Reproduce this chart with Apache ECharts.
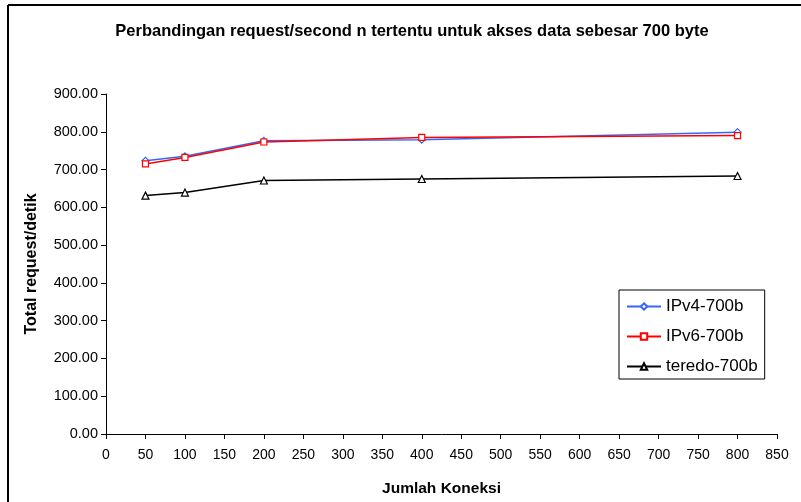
<!DOCTYPE html>
<html>
<head>
<meta charset="utf-8">
<style>
  html, body { margin: 0; padding: 0; background: #fff; }
  #chart { width: 801px; height: 502px; }
</style>
<script src="https://cdn.jsdelivr.net/npm/echarts@6/dist/echarts.min.js"></script>
</head>
<body>
<div id="chart"></div>
<script>
// Number of connections on the x axis
const koneksi = [50, 100, 200, 400, 800];
// Requests per second for each protocol
const ipv4 = [723, 735, 776, 779, 799];
const ipv6 = [715, 732, 773, 785, 790];
const teredo = [631, 639, 671, 675, 683];

const FONT = 'Liberation Sans, Arial, sans-serif';

const pairs = (ys) => koneksi.map((x, i) => [x, ys[i]]);

const chart = echarts.init(document.getElementById('chart'), null, { renderer: 'canvas' });

chart.setOption({
  animation: false,
  backgroundColor: '#ffffff',
  title: {
    text: 'Perbandingan request/second n tertentu untuk akses data sebesar 700 byte',
    left: 407,
    textAlign: 'center',
    top: 18,
    textStyle: { fontFamily: FONT, fontSize: 16.5, fontWeight: 'bold', color: '#000' }
  },
  grid: { left: 106, right: 24, top: 94, bottom: 67, containLabel: false },
  legend: {
    orient: 'vertical',
    left: 619,
    top: 290,
    padding: [8, 7, 4, 7],
    itemGap: 13,
    itemWidth: 34,
    itemHeight: 8,
    backgroundColor: '#ffffff',
    borderColor: '#000',
    borderWidth: 1,
    textStyle: { fontFamily: FONT, fontSize: 17, color: '#000' },
    data: ['IPv4-700b', 'IPv6-700b', 'teredo-700b']
  },
  xAxis: {
    type: 'value',
    min: 0,
    max: 850,
    interval: 50,
    name: 'Jumlah Koneksi',
    nameLocation: 'middle',
    nameGap: 47,
    nameTextStyle: { fontFamily: FONT, fontSize: 15.5, fontWeight: 'bold', color: '#000' },
    axisLine: { lineStyle: { color: '#000', width: 1 } },
    axisTick: { show: true, length: 5, lineStyle: { color: '#000' } },
    axisLabel: { fontFamily: FONT, fontSize: 14, color: '#000', margin: 14 },
    splitLine: { show: false }
  },
  yAxis: {
    type: 'value',
    min: 0,
    max: 900,
    interval: 100,
    name: 'Total request/detik',
    nameLocation: 'middle',
    nameGap: 66,
    nameTextStyle: { fontFamily: FONT, fontSize: 16, fontWeight: 'bold', color: '#000' },
    axisLine: { show: true, lineStyle: { color: '#000', width: 1 } },
    axisTick: { show: true, length: 5, lineStyle: { color: '#000' } },
    axisLabel: {
      fontFamily: FONT, fontSize: 14.5, color: '#000', margin: 8,
      formatter: (v) => v.toFixed(2)
    },
    splitLine: { show: false }
  },
  series: [
    {
      name: 'IPv4-700b',
      type: 'line',
      data: pairs(ipv4),
      symbol: 'diamond',
      symbolSize: 7,
      lineStyle: { color: '#3366ff', width: 1.5 },
      itemStyle: { color: '#ffffff', borderColor: '#3366ff', borderWidth: 1.2 },
      z: 3
    },
    {
      name: 'IPv6-700b',
      type: 'line',
      data: pairs(ipv6),
      symbol: 'rect',
      symbolSize: 6,
      lineStyle: { color: '#ff0000', width: 1.5 },
      itemStyle: { color: '#ffffff', borderColor: '#ff0000', borderWidth: 1.2 },
      z: 4
    },
    {
      name: 'teredo-700b',
      type: 'line',
      data: pairs(teredo),
      symbol: 'triangle',
      symbolSize: 7,
      lineStyle: { color: '#000000', width: 1.5 },
      itemStyle: { color: '#ffffff', borderColor: '#000000', borderWidth: 1.2 },
      z: 3
    }
  ],
  graphic: [
    // outer frame, left and top edges
    { type: 'line', shape: { x1: 8, y1: 5, x2: 8, y2: 502 }, style: { stroke: '#000', lineWidth: 2 } },
    { type: 'line', shape: { x1: 8, y1: 5, x2: 801, y2: 5 }, style: { stroke: '#000', lineWidth: 2 } }
  ]
});
</script>
</body>
</html>
